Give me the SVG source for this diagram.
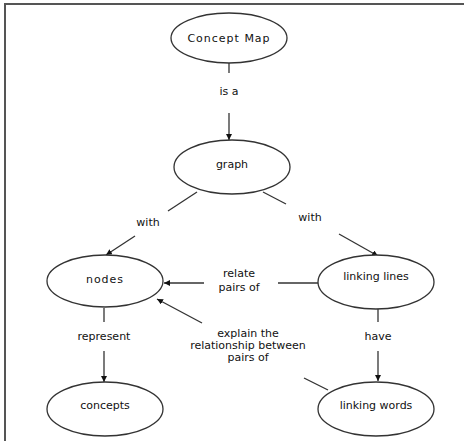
<svg xmlns="http://www.w3.org/2000/svg" width="464" height="441" viewBox="0 0 464 441">
<defs>
<marker id="ah" viewBox="0 0 10 10" refX="10" refY="5" markerWidth="6" markerHeight="6" markerUnits="userSpaceOnUse" orient="auto">
<path d="M0,0 L10,5 L0,10 z" fill="#111"/>
</marker>
<style>
.node ellipse{fill:#fff;stroke:#333;stroke-width:1.3}
text{font-family:"DejaVu Sans","Liberation Sans",sans-serif;font-size:11px;fill:#111;text-anchor:middle}
.sp{letter-spacing:1px}
.c line{stroke:#333;stroke-width:1.3}
.c .a{marker-end:url(#ah)}
</style>
</defs>
<rect width="464" height="441" fill="#fff"/>
<g id="frame" stroke="#555" stroke-width="2">
<line x1="4" y1="4" x2="464" y2="4"/>
<line x1="5" y1="3" x2="5" y2="441"/>
</g>
<g class="c" id="connectors">
<line x1="229" y1="63" x2="229" y2="73"/>
<line class="a" x1="229" y1="113" x2="229" y2="140"/>
<line x1="197" y1="192" x2="168" y2="211"/>
<line class="a" x1="135" y1="236" x2="106" y2="255"/>
<line x1="263" y1="192" x2="286" y2="204"/>
<line class="a" x1="339" y1="234" x2="378" y2="256"/>
<line x1="318" y1="283" x2="278" y2="283"/>
<line class="a" x1="204" y1="283" x2="164" y2="283"/>
<line x1="328" y1="390" x2="304" y2="378"/>
<line class="a" x1="202" y1="323" x2="157" y2="299"/>
<line x1="104" y1="308" x2="104" y2="322"/>
<line class="a" x1="104" y1="351" x2="104" y2="382"/>
<line x1="378" y1="309" x2="378" y2="322"/>
<line class="a" x1="378" y1="351" x2="378" y2="381"/>
</g>
<g id="labels">
<text x="229" y="95">is a</text>
<text x="148" y="226">with</text>
<text x="310" y="221">with</text>
<text x="239" y="277">relate</text>
<text x="239" y="291">pairs of</text>
<text x="104" y="340">represent</text>
<text x="378" y="340">have</text>
<text x="248" y="337">explain the</text>
<text x="248" y="349">relationship between</text>
<text x="248" y="361">pairs of</text>
</g>
<g class="node" id="n-conceptmap"><ellipse cx="229" cy="38" rx="58" ry="25"/><text class="sp" x="229" y="42">Concept Map</text></g>
<g class="node" id="n-graph"><ellipse cx="232" cy="167" rx="58" ry="27"/><text x="232" y="168">graph</text></g>
<g class="node" id="n-nodes"><ellipse cx="105" cy="281" rx="58" ry="26"/><text class="sp" x="105" y="283">nodes</text></g>
<g class="node" id="n-linkinglines"><ellipse cx="376" cy="282" rx="58" ry="27"/><text x="376" y="280">linking lines</text></g>
<g class="node" id="n-concepts"><ellipse cx="105" cy="409" rx="58" ry="27"/><text x="105" y="409">concepts</text></g>
<g class="node" id="n-linkingwords"><ellipse cx="376" cy="409" rx="58" ry="27"/><text x="376" y="409">linking words</text></g>
</svg>
